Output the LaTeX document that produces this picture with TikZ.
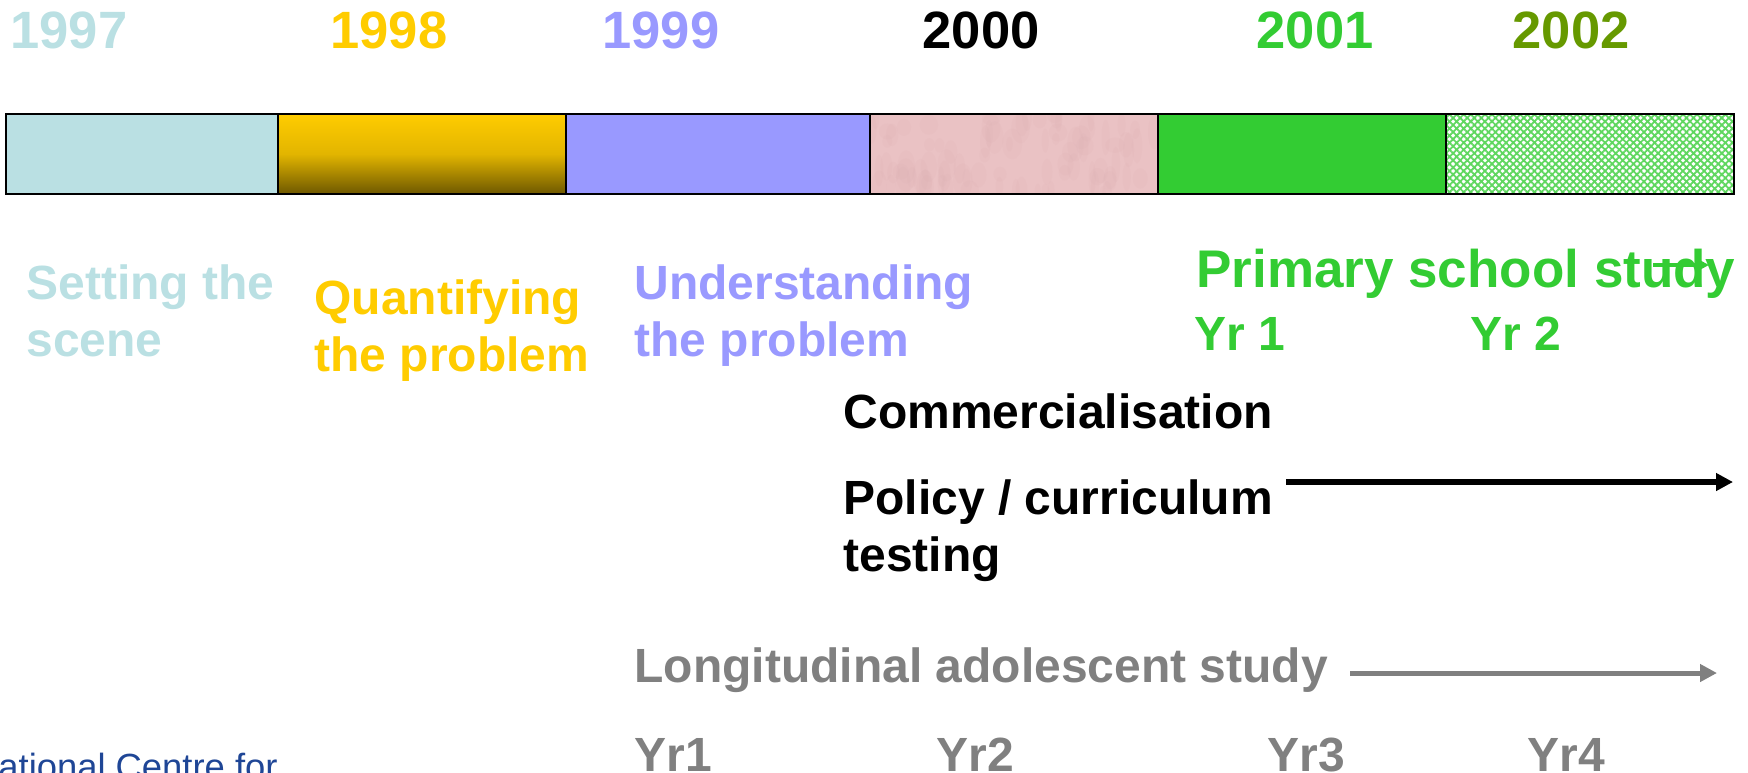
\documentclass[tikz,border=0pt]{standalone}
\usepackage{fontspec}
\setmainfont{Liberation Sans}
\usetikzlibrary{arrows.meta,patterns.meta}

\definecolor{scene}{RGB}{186,224,227}
\definecolor{gold}{RGB}{255,204,0}
\definecolor{golddark}{RGB}{110,88,0}
\definecolor{lavender}{RGB}{153,153,255}
\definecolor{rose}{RGB}{234,194,196}
\definecolor{rosedark}{RGB}{218,172,176}
\definecolor{leaf}{RGB}{51,204,51}
\definecolor{olive}{RGB}{102,153,0}
\definecolor{hatchgreen}{RGB}{95,215,95}
\definecolor{slate}{RGB}{128,128,128}
\definecolor{navy}{RGB}{31,70,150}

\begin{document}
\begin{tikzpicture}[x=0.5pt,y=-0.5pt,
  year/.style={font=\fontsize{26.25}{30}\selectfont\bfseries, anchor=base, inner sep=0pt},
  phase/.style={font=\fontsize{24}{28.5}\selectfont\bfseries, anchor=base west, inner sep=0pt, align=left},
  headline/.style={font=\fontsize{26.5}{30}\selectfont\bfseries, anchor=base west, inner sep=0pt},
  outline/.style={draw=black, line width=1.3pt},
  flow/.style={line width=3pt, -{Triangle[length=8.5pt,width=8.5pt]}},
]
\useasboundingbox (0,0) rectangle (1748,772);
\clip (0,0) rectangle (1748,772);

% year headings
\node[year, text=scene]    (y1997) at (69,48)   {1997};
\node[year, text=gold]     (y1998) at (389,48)  {1998};
\node[year, text=lavender] (y1999) at (661,48)  {1999};
\node[year, text=black]    (y2000) at (981,48)  {2000};
\node[year, text=leaf]     (y2001) at (1315,48) {2001};
\node[year, text=olive]    (y2002) at (1571,48) {2002};

% timeline bar segments
\fill[scene] (6,114) rectangle (278,194);
\shade[top color=gold, bottom color=golddark, middle color=gold!80!golddark] (278,114) rectangle (566,194);
\fill[lavender] (566,114) rectangle (870,194);
\fill[rose] (870,114) rectangle (1158,194);
% faint mottling on the rose segment
\begin{scope}
  \clip (870,114) rectangle (1158,194);
  \pgfmathsetseed{7}
  \foreach \i in {1,...,90}{
    \pgfmathsetmacro{\mx}{870+288*rnd}
    \pgfmathsetmacro{\my}{114+80*rnd}
    \pgfmathsetmacro{\rx}{3+7*rnd}
    \pgfmathsetmacro{\ry}{6+12*rnd}
    \fill[rosedark, opacity=0.12] (\mx,\my) ellipse [x radius=\rx, y radius=\ry];
  }
\end{scope}
\fill[leaf] (1158,114) rectangle (1446,194);
\fill[white] (1446,114) rectangle (1734,194);
\path[pattern={Hatch[angle=45,distance=2.5pt,line width=0.9pt]}, pattern color=hatchgreen]
  (1446,114) rectangle (1734,194);
\draw[outline] (6,114) rectangle (1734,194);
\foreach \x in {278,566,870,1158,1446}
  \draw[outline] (\x,114) -- (\x,194);

% phase labels (anchored on the baseline of their last line)
\node[phase, text=scene]    (setting) at (26,356)  {Setting the\\scene};
\node[phase, text=gold]     (quant)   at (314,371) {Quantifying\\the problem};
\node[phase, text=lavender] (under)   at (634,356) {Understanding\\the problem};

% primary school study
\node[headline, text=leaf] (primary) at (1196,287) {Primary school study};
\node[phase, text=leaf] (pyr1) at (1194,350) {Yr 1};
\node[phase, text=leaf] (pyr2) at (1470,350) {Yr 2};
\coordinate (psA) at (1653,265);
\coordinate (psB) at (1709,265);
\draw[leaf, line width=1.6pt, -{Triangle[length=6pt,width=6pt]}] (psA) -- (psB);

% commercialisation and policy
\node[phase] (comm)   at (843,428) {Commercialisation};
\node[phase] (policy) at (843,571) {Policy / curriculum\\testing};
\coordinate (polA) at (1286,482);
\coordinate (polB) at (1733,482);
\draw[flow, black] (polA) -- (polB);

% longitudinal study
\node[phase, text=slate] (longi) at (634,682) {Longitudinal adolescent study};
\coordinate (lonA) at (1350,673);
\coordinate (lonB) at (1717,673);
\draw[flow, slate, line width=2.5pt] (lonA) -- (lonB);
\node[phase, text=slate] (lyr1) at (634,771)  {Yr1};
\node[phase, text=slate] (lyr2) at (936,771)  {Yr2};
\node[phase, text=slate] (lyr3) at (1267,771) {Yr3};
\node[phase, text=slate] (lyr4) at (1527,771) {Yr4};

% footer
\node[font=\fontsize{18.2}{20}\selectfont, anchor=base west, inner sep=0pt, text=navy] (centre) at (-2,779) {ational Centre for};
\end{tikzpicture}
\end{document}
